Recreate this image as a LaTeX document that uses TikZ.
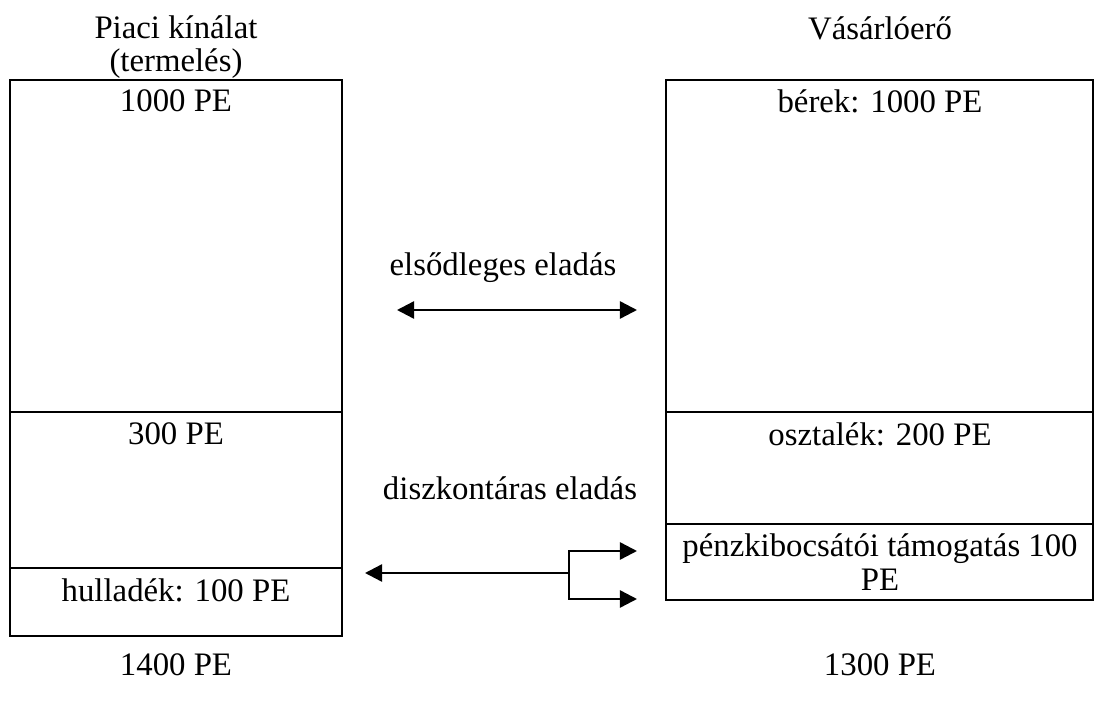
\documentclass[tikz,border=0pt]{standalone}
\usepackage{fontspec}
\setmainfont{Liberation Serif}
\usetikzlibrary{arrows.meta}
\begin{document}
\begin{tikzpicture}[x=0.366pt, y=-0.366pt,
		font=\fontsize{12}{12.2}\selectfont,
		box/.style={line width=0.5pt},
		lbl/.style={inner sep=0pt, align=center},
		arr/.style={line width=0.9pt, -{Triangle[length=6.3pt,width=6.3pt]}},
		twoway/.style={line width=0.9pt, {Triangle[length=6.3pt,width=6.3pt]}-{Triangle[length=6.3pt,width=6.3pt]}}]
	\useasboundingbox (0,0) rectangle (1105,706);
	
	% supply column
	\draw[box] (10,80) rectangle (342,636);
	\draw[box] (10,412) -- (342,412);
	\draw[box] (10,568) -- (342,568);
	
	% purchasing power column
	\draw[box] (666,80) rectangle (1093,600);
	\draw[box] (666,412) -- (1093,412);
	\draw[box] (666,524) -- (1093,524);
	
	\node[lbl] (supply) at (176,47) {Piaci kínálat\\(termelés)};
	\node[lbl] (power) at (880,28) {Vásárlóerő};
	
	\node[lbl] (s1) at (176,101) {1000 PE};
	\node[lbl] (s2) at (176,434) {300 PE};
	\node[lbl] (s3) at (176,590) {hulladék: 100 PE};
	
	\node[lbl] (w1) at (880,101) {bérek: 1000 PE};
	\node[lbl] (w2) at (880,434) {osztalék: 200 PE};
	\node[lbl] (w3) at (880,562) {pénzkibocsátói támogatás 100\\PE};
	
	\node[lbl] (prim) at (503,268) {elsődleges eladás};
	\node[lbl] (disc) at (510,488) {diszkontáras eladás};
	
	\node[lbl] (tot1) at (176,665) {1400 PE};
	\node[lbl] (tot2) at (880,665) {1300 PE};
	
	% sales flows
	\coordinate (p1) at (397,310);
	\coordinate (p2) at (637,310);
	\draw[twoway] (p1) -- (p2);
	
	\coordinate (d0) at (365,573);
	\coordinate (fork) at (569,573);
	\coordinate (d1) at (637,551);
	\coordinate (d2) at (637,599);
	\draw[arr] (fork) -- (d0);
	\draw[arr] (fork) |- (d1);
	\draw[arr] (fork) |- (d2);
\end{tikzpicture}
\end{document}
